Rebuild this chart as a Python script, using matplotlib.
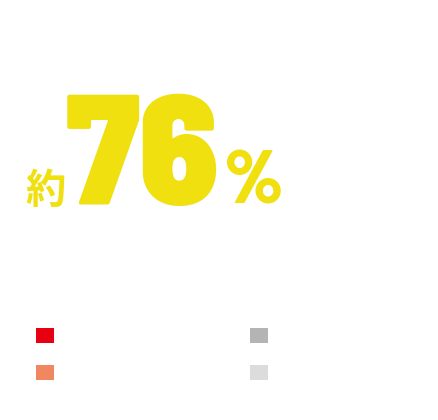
import matplotlib
matplotlib.use("Agg")
import matplotlib.pyplot as plt
from matplotlib.patches import Patch

# data
headline_prefix = "約"
headline_value = 76
headline_suffix = "%"
categories = ["とても満足", "やや満足", "やや不満", "不満"]
colors = ["#E60012", "#F08761", "#B4B4B4", "#DCDCDC"]

W, H = 438, 420
fig = plt.figure(figsize=(W / 100, H / 100), dpi=100)
fig.patch.set_facecolor("white")

yellow = "#F0E010"
numfont = ["Barlow Semi Condensed", "Barlow", "Roboto", "DejaVu Sans"]
pctfont = ["Barlow Condensed", "Barlow Semi Condensed", "Barlow", "Roboto", "DejaVu Sans"]

def fx(px):
    return px / W

def fy(py):
    return 1 - py / H

fig.text(fx(25), fy(203), headline_prefix, fontsize=29, color=yellow,
         fontfamily=["Noto Sans CJK JP", "DejaVu Sans"], fontweight="bold",
         ha="left", va="baseline")
fig.text(fx(66), fy(205), f"{headline_value}", fontsize=113, color=yellow,
         fontfamily=numfont, fontweight="black",
         ha="left", va="baseline")
fig.text(fx(225), fy(203), headline_suffix, fontsize=55, color=yellow,
         fontfamily=pctfont, fontweight="black",
         ha="left", va="baseline")

handles = [Patch(facecolor=c, edgecolor="none") for c in colors]
fs = 10
fsp = fs * 100 / 72
leg = fig.legend(handles, categories, loc="upper left",
                 bbox_to_anchor=(fx(36), fy(328)), ncol=2, frameon=False,
                 prop={"family": ["Noto Sans CJK JP", "DejaVu Sans"], "size": fs},
                 handlelength=18 / fsp, handleheight=18 / fsp,
                 handletextpad=0.6, labelspacing=22 / fsp, columnspacing=8.5,
                 borderpad=0, borderaxespad=0)
for t in leg.get_texts():
    t.set_color("white")

fig.savefig("out.png", dpi=100, facecolor="white")
